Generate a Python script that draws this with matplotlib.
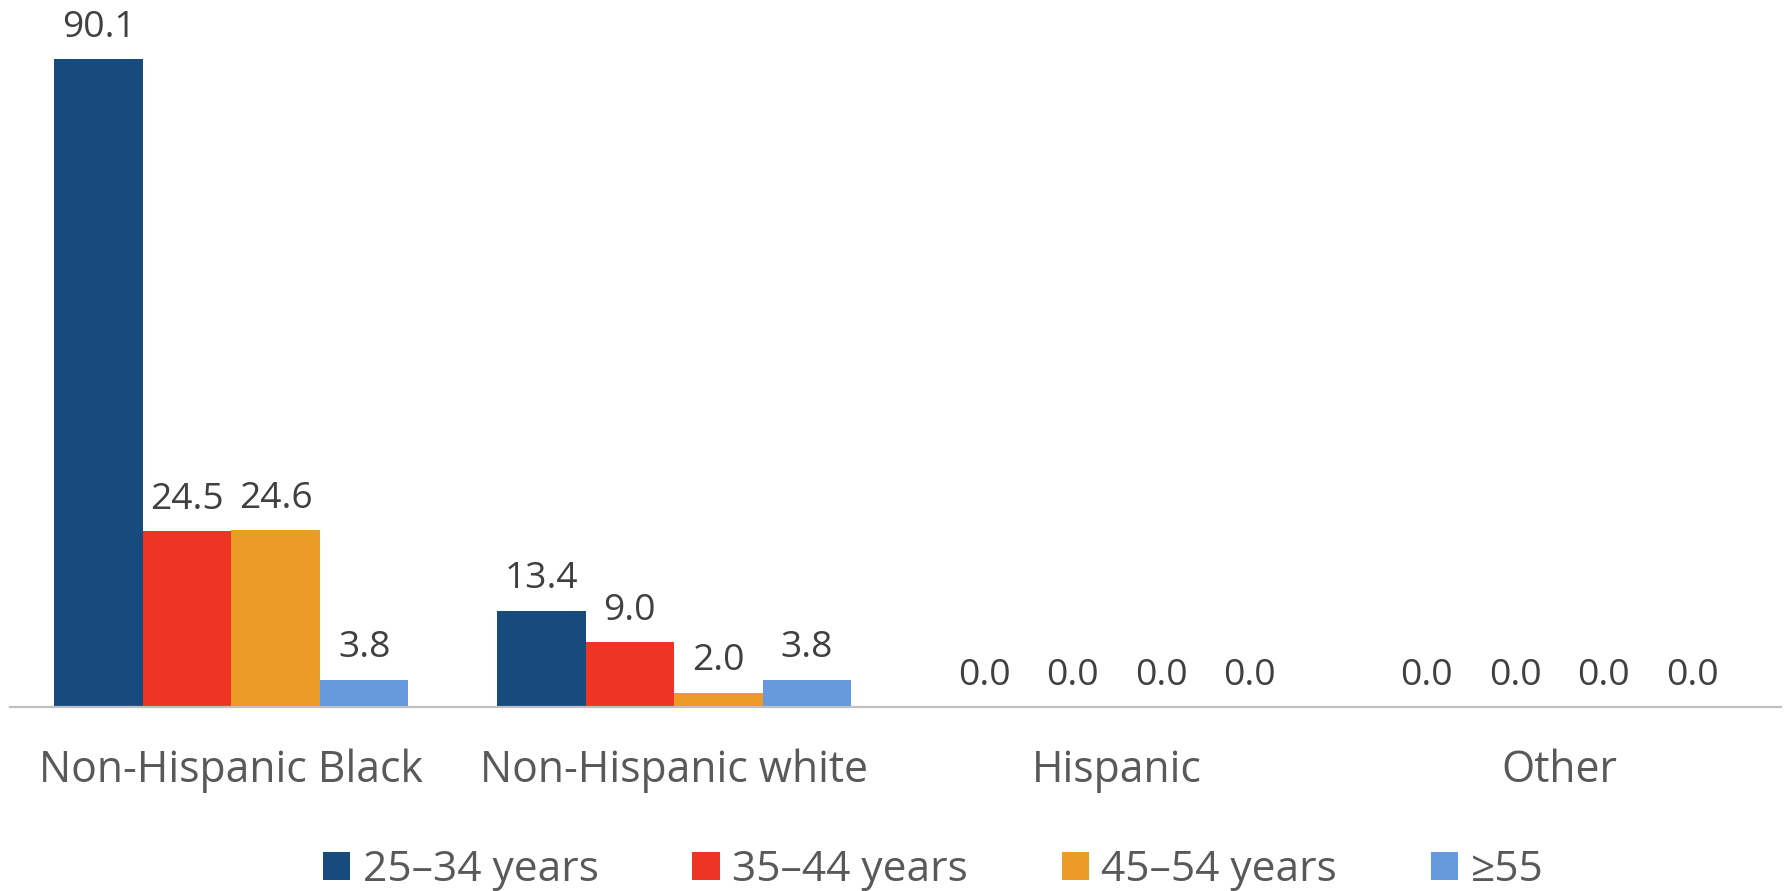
import matplotlib
matplotlib.use("Agg")
import matplotlib.pyplot as plt
import numpy as np
from matplotlib.patches import Patch

categories = ["Non-Hispanic Black", "Non-Hispanic white", "Hispanic", "Other"]
series_names = ["25\u201334 years", "35\u201344 years", "45\u201354 years", "\u226555"]
s_25_34 = [90.1, 13.4, 0.0, 0.0]
s_35_44 = [24.5, 9.0, 0.0, 0.0]
s_45_54 = [24.6, 2.0, 0.0, 0.0]
s_55 = [3.8, 3.8, 0.0, 0.0]
series = [s_25_34, s_35_44, s_45_54, s_55]
colors = ["#174B7E", "#EE3424", "#ED9B27", "#6699DE"]

plt.rcParams['font.family'] = ['Open Sans', 'DejaVu Sans']

W, H = 1789, 891
fig = plt.figure(figsize=(W / 100, H / 100), dpi=100)
ax_left = 10 / W
ax_right = 1781 / W
ax_bottom = (H - 707) / H
ax = fig.add_axes([ax_left, ax_bottom, ax_right - ax_left, 1 - ax_bottom])

x = np.arange(len(categories))
bw = 0.2
for i, (vals, c, name) in enumerate(zip(series, colors, series_names)):
    pos = x + (i - 1.5) * bw
    bars = ax.bar(pos, vals, width=bw, color=c, label=name, zorder=2)
    for xb, v in zip(pos, vals):
        ax.annotate(f"{v:.1f}", xy=(xb, v), xytext=(0, 16), textcoords="offset points",
                    ha="center", va="baseline", fontsize=26.8, color="#404040")

ax.set_xlim(-0.5, 3.5)
ax.set_ylim(0, 707 / (6.30 * 1.141))
ax.set_xticks(x)
ax.set_xticklabels(categories, fontsize=30.8, color="#595959")
ax.tick_params(axis="x", length=0, pad=30)
ax.set_yticks([])
for s in ["top", "right", "left"]:
    ax.spines[s].set_visible(False)
ax.spines["bottom"].set_color("#BFBFBF")
ax.spines["bottom"].set_linewidth(1.6)
ax.spines["bottom"].set_zorder(3)

handles = [Patch(facecolor=c, edgecolor="none") for c in colors]
leg = fig.legend(handles, series_names, loc="center left",
                 bbox_to_anchor=(323 / W, (H - 870) / H), ncol=4, frameon=False,
                 fontsize=30.6, labelcolor="#595959", handlelength=0.64, handleheight=0.64,
                 handletextpad=0.3, columnspacing=2.2, borderpad=0, borderaxespad=0)

fig.savefig("out.png", dpi=100)
